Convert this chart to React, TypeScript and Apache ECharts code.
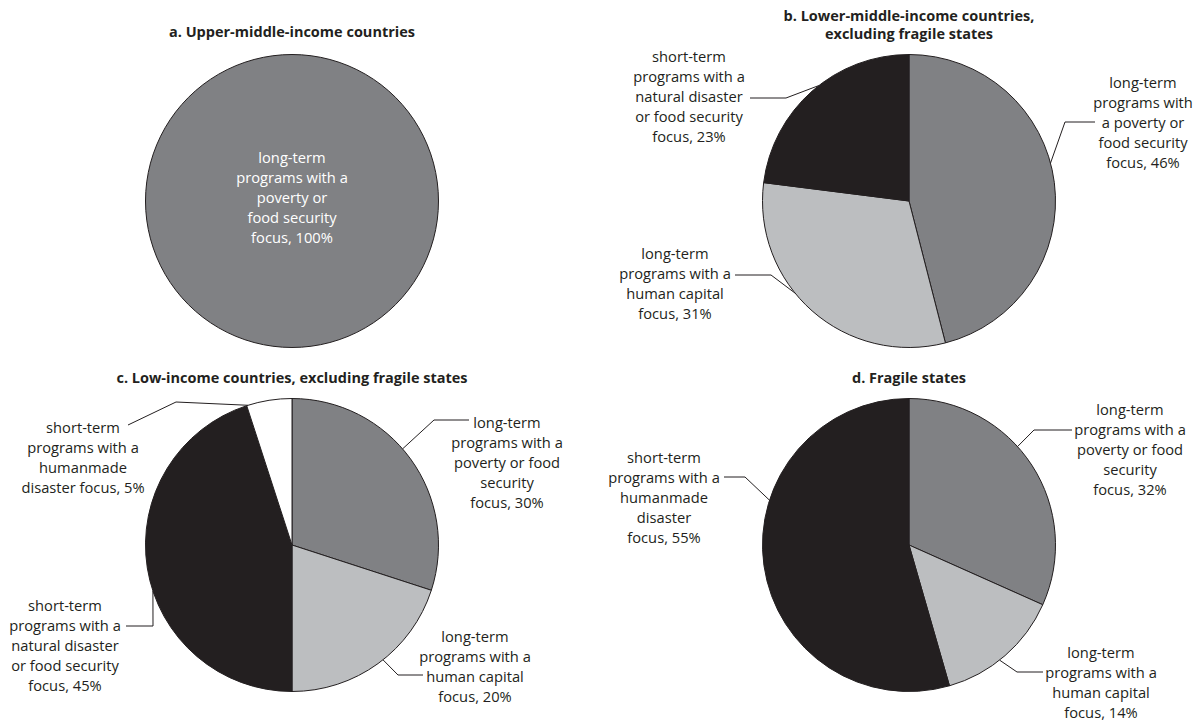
import React, { useEffect, useRef } from 'react';
import * as echarts from 'echarts';

// ---- Data ----
const categories = [
  'long-term programs with a poverty or food security focus',
  'long-term programs with a human capital focus',
  'short-term programs with a natural disaster or food security focus',
  'short-term programs with a humanmade disaster focus',
];

const panelTitles = [
  'a. Upper-middle-income countries',
  'b. Lower-middle-income countries,\nexcluding fragile states',
  'c. Low-income countries, excluding fragile states',
  'd. Fragile states',
];

const upperMiddleCats = [0];
const upperMiddleValues = [100];
const upperMiddleLabels = ['long-term\nprograms with a\npoverty or\nfood security\nfocus, {c}%'];

const lowerMiddleCats = [0, 1, 2];
const lowerMiddleValues = [46, 31, 23];
const lowerMiddleLabels = [
  'long-term\nprograms with\na poverty or\nfood security\nfocus, {c}%',
  'long-term\nprograms with a\nhuman capital\nfocus, {c}%',
  'short-term\nprograms with a\nnatural disaster\nor food security\nfocus, {c}%',
];

const lowIncomeCats = [0, 1, 2, 3];
const lowIncomeValues = [30, 20, 45, 5];
const lowIncomeLabels = [
  'long-term\nprograms with a\npoverty or food\nsecurity\nfocus, {c}%',
  'long-term\nprograms with a\nhuman capital\nfocus, {c}%',
  'short-term\nprograms with a\nnatural disaster\nor food security\nfocus, {c}%',
  'short-term\nprograms with a\nhumanmade\ndisaster focus, {c}%',
];

const fragileCats = [0, 1, 3];
const fragileValues = [32, 14, 55];
const fragileLabels = [
  'long-term\nprograms with a\npoverty or food\nsecurity\nfocus, {c}%',
  'long-term\nprograms with a\nhuman capital\nfocus, {c}%',
  'short-term\nprograms with a\nhumanmade\ndisaster\nfocus, {c}%',
];

// ---- Styles / layout ----
const DARK = '#808184';
const LIGHT = '#bcbec0';
const BLACK = '#231f20';
const WHITE = '#ffffff';

const upperMiddleColors = [DARK];
const lowerMiddleColors = [DARK, LIGHT, BLACK];
const lowIncomeColors = [DARK, LIGHT, BLACK, WHITE];
const fragileColors = [DARK, LIGHT, BLACK];

const R = 146.5;
const centers = [
  [292, 201],
  [909, 201],
  [292, 545],
  [909, 545],
];

// label placement relative to pie centre: label centre, leader attach angle (deg, clockwise from top), elbow, end
type Spec = { label: number[]; theta?: number; elbow?: number[]; end?: number[] };
const upperMiddleSpecs: Spec[] = [{ label: [0, -4] }];
const lowerMiddleSpecs: Spec[] = [
  { label: [234, -79], theta: 75, elbow: [156, -79], end: [186, -79] },
  { label: [-234, 82], theta: 231, elbow: [-138, 74], end: [-174, 74] },
  { label: [-220, -105], theta: 322, elbow: [-123, -103], end: [-159, -103] },
];
const lowIncomeSpecs: Spec[] = [
  { label: [215, -83], theta: 49, elbow: [142, -125], end: [177, -125] },
  { label: [183, 121], theta: 141.6, elbow: [106, 130], end: [131, 130] },
  { label: [-227, 100], theta: 251.7, elbow: [-139, 81], end: [-166, 81] },
  { label: [-209, -88], theta: 342.5, elbow: [-116, -143], end: [-164, -120] },
];
const fragileSpecs: Spec[] = [
  { label: [221, -96], theta: 47.8, elbow: [125, -115], end: [163, -115] },
  { label: [192, 137], theta: 141.8, elbow: [108, 127], end: [134, 127] },
  { label: [-245, -48], theta: 287.8, elbow: [-164, -68], end: [-185, -68] },
];

const FONT = '"Open Sans", "Noto Sans", sans-serif';

function buildSeries(
  idx: number,
  cats: number[],
  values: number[],
  labels: string[],
  colors: string[],
  specs: Spec[],
  inside: boolean
) {
  const [cx, cy] = centers[idx];
  return {
    type: 'pie',
    center: [cx, cy],
    radius: R,
    startAngle: 90,
    clockwise: true,
    avoidLabelOverlap: false,
    silent: true,
    itemStyle: { borderColor: BLACK, borderWidth: 1 },
    label: {
      show: true,
      position: inside ? 'center' : 'outside',
      fontFamily: FONT,
      fontSize: 14.7,
      lineHeight: 20,
      color: inside ? WHITE : BLACK,
      align: 'center',
    },
    labelLine: {
      show: !inside,
      lineStyle: { color: BLACK, width: 1 },
    },
    labelLayout: (params: any) => {
      const s = specs[params.dataIndex];
      const out: any = {
        x: cx + s.label[0],
        y: cy + s.label[1],
        align: 'center',
        verticalAlign: 'middle',
      };
      if (s.theta != null && s.elbow && s.end) {
        const t = (s.theta * Math.PI) / 180;
        out.labelLinePoints = [
          [cx + R * Math.sin(t), cy - R * Math.cos(t)],
          [cx + s.elbow[0], cy + s.elbow[1]],
          [cx + s.end[0], cy + s.end[1]],
        ];
      }
      return out;
    },
    data: values.map((v, i) => ({
      name: categories[cats[i]],
      value: v,
      itemStyle: { color: colors[i] },
      label: { formatter: labels[i] },
    })),
  };
}

export default function App() {
  const ref = useRef<HTMLDivElement>(null);
  useEffect(() => {
    if (!ref.current) return;
    const chart = echarts.init(ref.current, null, { renderer: 'svg' });
    const titleTops = [22, 6, 368, 368];
    chart.setOption({
      animation: false,
      backgroundColor: '#ffffff',
      title: panelTitles.map((t, i) => ({
        text: t,
        left: centers[i][0],
        top: titleTops[i],
        textAlign: 'center',
        padding: 0,
        textStyle: {
          fontFamily: FONT,
          fontWeight: 'bold',
          fontSize: 14.5,
          lineHeight: 18,
          color: BLACK,
        },
      })),
      series: [
        buildSeries(0, upperMiddleCats, upperMiddleValues, upperMiddleLabels, upperMiddleColors, upperMiddleSpecs, true),
        buildSeries(1, lowerMiddleCats, lowerMiddleValues, lowerMiddleLabels, lowerMiddleColors, lowerMiddleSpecs, false),
        buildSeries(2, lowIncomeCats, lowIncomeValues, lowIncomeLabels, lowIncomeColors, lowIncomeSpecs, false),
        buildSeries(3, fragileCats, fragileValues, fragileLabels, fragileColors, fragileSpecs, false),
      ],
    });
    return () => chart.dispose();
  }, []);
  return (
    <div
      ref={ref}
      style={{ position: 'absolute', left: 0, top: 0, width: 1194, height: 724 }}
    />
  );
}
